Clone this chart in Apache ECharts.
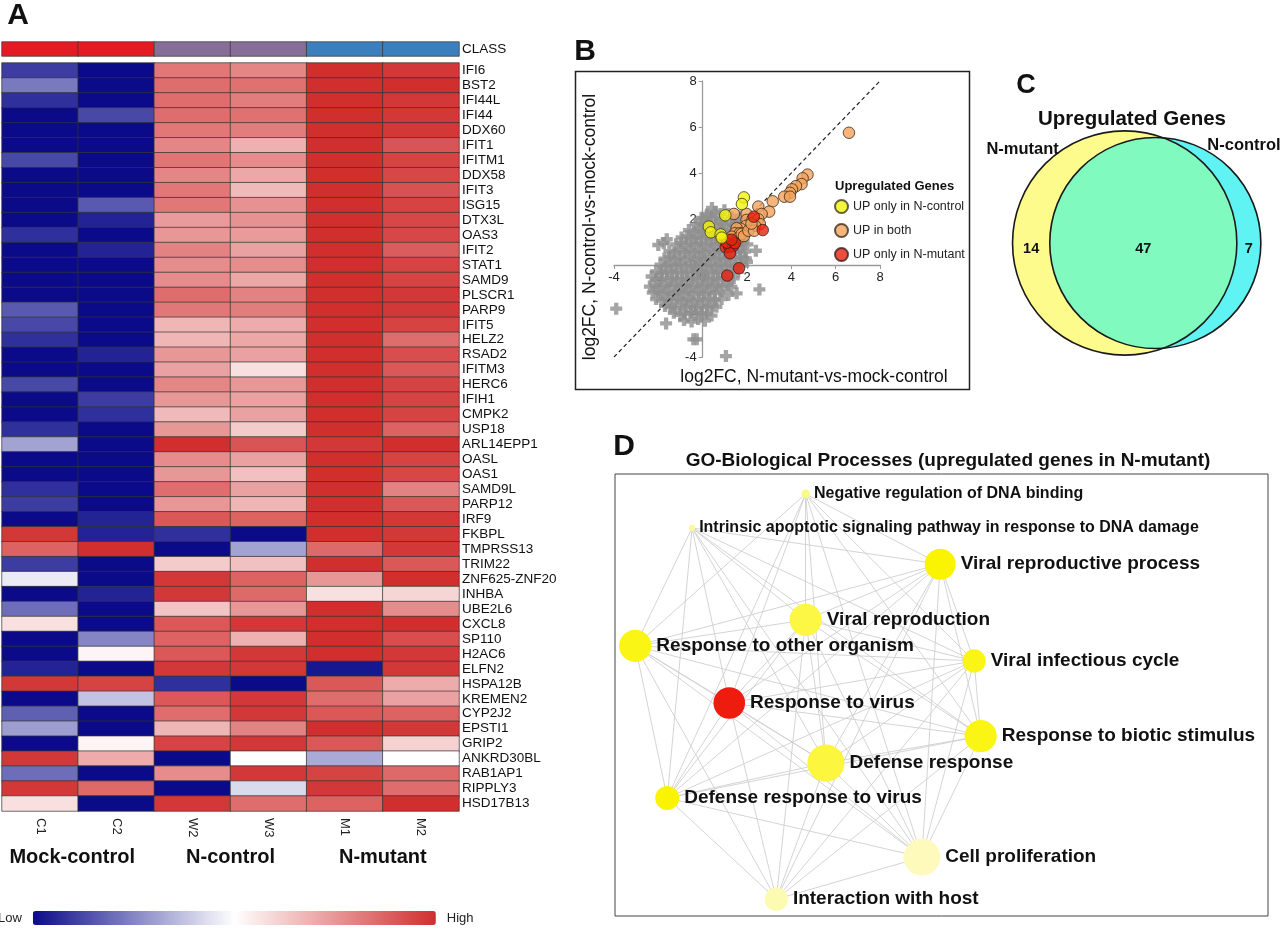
<!DOCTYPE html>
<html>
<head>
<meta charset="utf-8">
<title>Upregulated genes in N-mutant</title>
<script src="https://cdn.jsdelivr.net/npm/echarts@6/dist/echarts.min.js"></script>
<style>
  html, body { margin: 0; padding: 0; background: #fff; }
  #chart { width: 1280px; height: 930px; }
</style>
</head>
<body>
<div id="chart"></div>
<script>
const FONT = '"Liberation Sans", Arial, Helvetica, sans-serif';

// ---- A: heatmap ----
const samples = ['C1', 'C2', 'W2', 'W3', 'M1', 'M2'];
const sampleClass = [0, 0, 1, 1, 2, 2];
const classNames = ['Mock-control', 'N-control', 'N-mutant'];
const genes = ['IFI6', 'BST2', 'IFI44L', 'IFI44', 'DDX60', 'IFIT1', 'IFITM1', 'DDX58', 'IFIT3', 'ISG15',
  'DTX3L', 'OAS3', 'IFIT2', 'STAT1', 'SAMD9', 'PLSCR1', 'PARP9', 'IFIT5', 'HELZ2', 'RSAD2',
  'IFITM3', 'HERC6', 'IFIH1', 'CMPK2', 'USP18', 'ARL14EPP1', 'OASL', 'OAS1', 'SAMD9L', 'PARP12',
  'IRF9', 'FKBPL', 'TMPRSS13', 'TRIM22', 'ZNF625-ZNF20', 'INHBA', 'UBE2L6', 'CXCL8', 'SP110', 'H2AC6',
  'ELFN2', 'HSPA12B', 'KREMEN2', 'CYP2J2', 'EPSTI1', 'GRIP2', 'ANKRD30BL', 'RAB1AP1', 'RIPPLY3', 'HSD17B13'];
// relative expression (low -1 .. high 1), columns follow samples
const expr = [
  [-0.8, -1, 0.65, 0.58, 1, 0.95],
  [-0.55, -1, 0.7, 0.68, 1, 1],
  [-0.85, -1, 0.7, 0.62, 1, 0.95],
  [-1, -0.75, 0.7, 0.68, 1, 0.95],
  [-1, -1, 0.65, 0.62, 1, 0.95],
  [-1, -1, 0.58, 0.38, 1, 0.82],
  [-0.75, -1, 0.66, 0.55, 1, 0.9],
  [-1, -1, 0.58, 0.42, 1, 0.88],
  [-1, -1, 0.65, 0.33, 1, 0.83],
  [-1, -0.68, 0.65, 0.52, 1, 0.9],
  [-1, -0.9, 0.48, 0.52, 1, 0.88],
  [-0.85, -1, 0.5, 0.48, 1, 0.88],
  [-1, -0.9, 0.6, 0.45, 1, 0.78],
  [-1, -1, 0.55, 0.55, 1, 0.9],
  [-1, -1, 0.55, 0.42, 1, 0.9],
  [-1, -1, 0.7, 0.6, 1, 0.95],
  [-0.68, -1, 0.65, 0.62, 1, 0.95],
  [-0.75, -1, 0.35, 0.4, 1, 0.9],
  [-0.85, -1, 0.35, 0.42, 1, 0.7],
  [-1, -0.9, 0.5, 0.45, 1, 0.85],
  [-1, -1, 0.45, 0.15, 1, 0.8],
  [-0.75, -1, 0.58, 0.5, 1, 0.9],
  [-1, -0.8, 0.5, 0.45, 1, 0.9],
  [-1, -0.85, 0.33, 0.45, 1, 0.9],
  [-0.85, -1, 0.5, 0.25, 1, 0.75],
  [-0.38, -1, 1, 0.82, 0.95, 1],
  [-1, -1, 0.55, 0.45, 1, 0.9],
  [-1, -1, 0.5, 0.3, 1, 0.88],
  [-0.85, -1, 0.7, 0.45, 1, 0.6],
  [-0.8, -1, 0.5, 0.35, 1, 0.8],
  [-1, -0.9, 0.8, 0.75, 1, 0.95],
  [0.95, -0.9, -0.85, -1, 1, 0.95],
  [0.75, 1, -1, -0.38, 0.72, 0.95],
  [-0.8, -1, 0.25, 0.3, 1, 0.8],
  [-0.08, -1, 0.95, 0.75, 0.5, 1],
  [-1, -0.9, 0.95, 0.72, 0.15, 0.2],
  [-0.6, -1, 0.28, 0.5, 1, 0.55],
  [0.15, -1, 0.8, 0.95, 1, 1],
  [-1, -0.5, 0.75, 0.38, 1, 0.85],
  [-1, 0.05, 0.8, 0.95, 1, 0.95],
  [-0.9, -1, 0.95, 0.95, -0.95, 0.95],
  [0.95, 0.9, -0.85, -1, 0.8, 0.4],
  [-1, -0.25, 0.8, 0.95, 0.7, 0.45],
  [-0.65, -1, 0.7, 0.95, 0.8, 0.75],
  [-0.4, -1, 0.35, 0.6, 1, 0.95],
  [-1, 0.05, 0.9, 0.95, 0.8, 0.22],
  [0.95, 0.4, -1, 0, -0.35, 0],
  [-0.6, -1, 0.55, 0.95, 0.9, 0.72],
  [0.95, 0.72, -1, -0.15, 0.95, 0.7],
  [0.15, -1, 0.95, 0.7, 0.75, 1]
];

// ---- B: log2FC scatter ----
const upOnlyNControl = [[1.86, 2.94], [1.77, 2.65], [1.02, 2.16], [0.28, 1.67], [0.37, 1.42], [0.81, 1.33], [0.86, 1.19]];
const upBoth = [[6.6, 5.75], [4.73, 3.93], [4.51, 3.77], [4.46, 3.52], [4.21, 3.43], [4.03, 3.29], [3.94, 3.14],
  [3.68, 2.97], [3.94, 2.97], [3.16, 2.77], [2.51, 2.54], [3.0, 2.32], [1.98, 2.22], [2.66, 2.22], [1.41, 2.22],
  [1.98, 1.96], [2.25, 1.99], [2.51, 1.99], [2.58, 1.78], [2.36, 1.71], [1.95, 1.7], [1.71, 1.58], [1.53, 1.6],
  [1.46, 1.38], [1.68, 1.38], [1.31, 1.23], [1.61, 1.16], [1.38, 1.01], [1.23, 0.97], [1.13, 1.09], [1.76, 1.35],
  [1.86, 1.26], [2.06, 1.49], [2.32, 1.49], [2.2, 1.8]];
const upOnlyNMutant = [[2.31, 2.1], [2.71, 1.52], [1.04, 0.77], [1.2, 0.8], [1.38, 0.83], [1.23, 0.51], [1.1, 0.97],
  [1.64, -0.14], [1.11, -0.46], [1.45, 0.95], [1.3, 1.1]];
const otherGenes = [
  [0.42, 2.48], [0.55, 2.3], [0.98, 2.38], [0.2, 2.2],
  [-0.05, 2.05], [0.18, 2.12], [0.38, 2.02], [0.62, 2.15], [0.85, 2.0], [1.32, 2.08], [1.55, 1.98], [1.7, 2.12],
  [-0.32, 1.78], [-0.1, 1.85], [0.12, 1.76], [0.35, 1.84], [0.6, 1.75], [0.82, 1.82], [1.05, 1.74], [1.28, 1.86], [1.5, 1.78],
  [-0.62, 1.52], [-0.4, 1.46], [-0.18, 1.55], [0.05, 1.48], [0.28, 1.53], [0.5, 1.45], [0.74, 1.56], [0.96, 1.47], [1.2, 1.52], [1.45, 1.44], [1.7, 1.55],
  [-1.62, 1.12], [-0.95, 1.2], [-0.72, 1.25], [-0.5, 1.16], [-0.28, 1.22], [-0.05, 1.18], [0.18, 1.26], [0.4, 1.15], [0.62, 1.22], [0.86, 1.17], [1.1, 1.24], [1.32, 1.15], [1.58, 1.2], [1.85, 1.26],
  [-2.0, 0.87], [-1.75, 0.95], [-1.2, 0.9], [-0.98, 0.96], [-0.75, 0.86], [-0.52, 0.94], [-0.3, 0.88], [-0.08, 0.95], [0.15, 0.86], [0.38, 0.93], [0.6, 0.87], [0.84, 0.95], [1.05, 0.88], [1.3, 0.92], [1.55, 0.85], [1.8, 0.94], [2.02, 0.9],
  [-1.5, 0.6], [-1.28, 0.55], [-1.05, 0.64], [-0.82, 0.57], [-0.6, 0.63], [-0.38, 0.56], [-0.15, 0.62], [0.08, 0.58], [0.3, 0.65], [0.52, 0.55], [0.75, 0.62], [0.98, 0.57], [1.2, 0.64], [1.45, 0.56], [1.68, 0.62], [1.9, 0.58], [2.4, 0.62],
  [-1.72, 0.28], [-1.5, 0.34], [-1.26, 0.26], [-1.02, 0.32], [-0.8, 0.27], [-0.58, 0.35], [-0.35, 0.28], [-0.12, 0.33], [0.1, 0.26], [0.32, 0.34], [0.55, 0.27], [0.78, 0.32], [1.0, 0.25], [1.22, 0.33], [1.45, 0.28], [1.7, 0.34], [1.95, 0.29],
  [-1.9, 0.02], [-1.66, -0.04], [-1.42, 0.05], [-1.2, -0.02], [-0.98, 0.04], [-0.75, -0.05], [-0.52, 0.03], [-0.3, -0.03], [-0.08, 0.05], [0.15, -0.02], [0.38, 0.04], [0.6, -0.04], [0.82, 0.03], [1.05, -0.03], [1.28, 0.05], [1.5, -0.02], [1.75, 0.03], [2.0, 0.14],
  [-2.1, -0.28], [-1.86, -0.34], [-1.62, -0.26], [-1.4, -0.33], [-1.16, -0.27], [-0.92, -0.35], [-0.7, -0.28], [-0.46, -0.33], [-0.24, -0.26], [0.0, -0.32], [0.22, -0.27], [0.45, -0.34], [0.68, -0.28], [0.9, -0.33], [1.12, -0.27], [1.36, -0.32], [1.6, -0.29],
  [-2.3, -0.5], [-2.08, -0.62], [-1.85, -0.57], [-1.6, -0.64], [-1.38, -0.56], [-1.15, -0.63], [-0.92, -0.58], [-0.68, -0.65], [-0.45, -0.57], [-0.22, -0.62], [0.02, -0.56], [0.25, -0.64], [0.48, -0.58], [0.7, -0.63], [0.94, -0.57], [1.18, -0.62], [1.4, -0.58],
  [-2.38, -0.94], [-2.15, -0.88], [-1.92, -0.95], [-1.68, -0.87], [-1.45, -0.93], [-1.22, -0.86], [-0.98, -0.94], [-0.75, -0.88], [-0.52, -0.95], [-0.28, -0.87], [-0.05, -0.93], [0.18, -0.86], [0.42, -0.94], [0.65, -0.88], [0.9, -0.93], [1.12, -0.87], [1.3, -0.95], [2.56, -1.06],
  [-2.25, -1.2], [-2.0, -1.16], [-1.78, -1.24], [-1.55, -1.18], [-1.3, -1.25], [-1.08, -1.17], [-0.85, -1.23], [-0.62, -1.16], [-0.4, -1.24], [-0.16, -1.18], [0.08, -1.25], [0.3, -1.17], [0.55, -1.22], [0.8, -1.15], [1.16, -1.3], [1.53, -1.23],
  [-2.1, -1.48], [-1.86, -1.55], [-1.62, -1.47], [-1.38, -1.54], [-1.15, -1.46], [-0.92, -1.53], [-0.68, -1.47], [-0.45, -1.55], [-0.2, -1.48], [0.05, -1.54], [0.3, -1.46], [0.55, -1.52], [0.85, -1.48],
  [-1.7, -1.78], [-1.45, -1.84], [-1.25, -1.88], [-1.0, -1.76], [-0.76, -1.83], [-0.52, -1.77], [-0.28, -1.85], [-0.04, -1.78], [0.2, -1.84], [0.45, -1.76], [0.62, -1.82],
  [-1.3, -2.08], [-1.0, -2.17], [-0.8, -2.12], [-0.55, -2.06], [-0.3, -2.14], [-0.06, -2.08], [0.2, -2.12], [0.4, -2.2],
  [-1.65, -2.54], [-0.84, -2.39], [-0.5, -2.46], [-0.2, -2.35], [0.1, -2.42],
  [-0.42, -3.23], [-0.27, -3.23], [1.05, -3.96], [-3.9, -1.9]
];
const identityLine = [[-4, -4], [8, 8]];

// ---- C: Venn counts ----
const vennSets = ['N-mutant', 'N-control'];
const vennOnly = [14, 7];
const vennShared = 47;

// ---- D: GO network ----
const goTerms = ['Negative regulation of DNA binding', 'Intrinsic apoptotic signaling pathway in response to DNA damage',
  'Viral reproductive process', 'Viral reproduction', 'Response to other organism', 'Viral infectious cycle',
  'Response to virus', 'Response to biotic stimulus', 'Defense response', 'Defense response to virus',
  'Cell proliferation', 'Interaction with host'];
const goLayoutX = [29.2, 11.8, 49.8, 29.2, 3.1, 55.0, 17.5, 56.0, 32.3, 8.0, 47.0, 24.7];
const goLayoutY = [4.5, 12.2, 20.4, 33.0, 38.9, 42.3, 51.8, 59.3, 65.4, 73.3, 86.7, 96.2];
const goGeneCount = [2, 1, 25, 27, 27, 14, 26, 27, 36, 15, 35, 14];
const goScore = [2, 1.6, 6, 4.0, 5.4, 5.4, 12, 5.4, 4.2, 6, 0.6, 0.9];
const goEdges = [
  [0, 2], [0, 3], [0, 4], [0, 5], [0, 6], [0, 7], [0, 8], [0, 9], [0, 10],
  [1, 2], [1, 3], [1, 4], [1, 5], [1, 6], [1, 7], [1, 8], [1, 9], [1, 10],
  [2, 3], [2, 4], [2, 5], [2, 6], [2, 7], [2, 8], [2, 9], [2, 10], [2, 11],
  [3, 4], [3, 5], [3, 6], [3, 7], [3, 8], [3, 9], [3, 10], [3, 11],
  [4, 5], [4, 6], [4, 7], [4, 8], [4, 9], [4, 10], [4, 11],
  [5, 6], [5, 7], [5, 8], [5, 9], [5, 10], [5, 11],
  [6, 7], [6, 8], [6, 9], [6, 10], [6, 11],
  [7, 8], [7, 9], [7, 10], [7, 11],
  [8, 9], [8, 10], [8, 11],
  [9, 10], [9, 11],
  [10, 11]
];

// heatmap layout
const heatLeft = 2;
const heatWidth = 457;
const colWidth = heatWidth / samples.length;

const heatData = [];
expr.forEach((row, r) => {
  row.forEach((v, c) => heatData.push([c, r, v]));
});
const classData = sampleClass.map((k, c) => [c, 0, k]);

// node colour: pale yellow -> yellow -> red with enrichment score
const scoreStops = [[0, [253, 251, 208]], [6, [251, 244, 0]], [12, [238, 28, 14]]];
function scoreColor(s) {
  for (let i = 1; i < scoreStops.length; i += 1) {
    const [v0, c0] = scoreStops[i - 1];
    const [v1, c1] = scoreStops[i];
    if (s <= v1 || i === scoreStops.length - 1) {
      const t = Math.max(0, Math.min(1, (s - v0) / (v1 - v0)));
      const c = c0.map((ch, k) => Math.round(ch + (c1[k] - ch) * t));
      return `rgb(${c[0]},${c[1]},${c[2]})`;
    }
  }
  return '#fbf400';
}

// Venn geometry: circle area = gene count, overlap area = shared count
function lensArea(r1, r2, d) {
  if (d >= r1 + r2) return 0;
  if (d <= Math.abs(r1 - r2)) return Math.PI * Math.min(r1, r2) ** 2;
  const a1 = Math.acos((d * d + r1 * r1 - r2 * r2) / (2 * d * r1));
  const a2 = Math.acos((d * d + r2 * r2 - r1 * r1) / (2 * d * r2));
  const k = Math.sqrt((-d + r1 + r2) * (d + r1 - r2) * (d - r1 + r2) * (d + r1 + r2));
  return r1 * r1 * a1 + r2 * r2 * a2 - 0.5 * k;
}
const vennR1 = Math.sqrt((vennOnly[0] + vennShared) / Math.PI);
const vennR2 = Math.sqrt((vennOnly[1] + vennShared) / Math.PI);
let lo = Math.abs(vennR1 - vennR2);
let hi = vennR1 + vennR2;
for (let i = 0; i < 60; i += 1) {
  const mid = (lo + hi) / 2;
  if (lensArea(vennR1, vennR2, mid) > vennShared) lo = mid;
  else hi = mid;
}
const vennD = (lo + hi) / 2;

function renderVenn(params, api) {
  const c1 = api.coord([-vennD / 2, 0]);
  const c2 = api.coord([vennD / 2, 0]);
  const unit = api.size([1, 1])[0];
  const R1 = vennR1 * unit;
  const R2 = vennR2 * unit;
  const dpx = c2[0] - c1[0];
  const a = (R1 * R1 - R2 * R2 + dpx * dpx) / (2 * dpx);
  const h = Math.sqrt(Math.max(R1 * R1 - a * a, 0));
  const xi = c1[0] + a;
  const cy = c1[1];
  const t2 = Math.atan2(h, xi - c2[0]);
  const t1 = Math.atan2(h, xi - c1[0]);
  const pts = [];
  const n = 80;
  for (let i = 0; i <= n; i += 1) {
    const t = t2 + (2 * Math.PI - 2 * t2) * i / n;
    pts.push([c2[0] + R2 * Math.cos(t), cy + R2 * Math.sin(t)]);
  }
  for (let i = 0; i <= n; i += 1) {
    const t = -t1 + 2 * t1 * i / n;
    pts.push([c1[0] + R1 * Math.cos(t), cy + R1 * Math.sin(t)]);
  }
  const label = (text, x, y, size) => ({
    type: 'text',
    style: {
      text, x, y, fill: '#111', font: `bold ${size}px ${FONT}`,
      textAlign: 'center', align: 'center', textVerticalAlign: 'middle', verticalAlign: 'middle'
    }
  });
  const leftEdge = c1[0] - R1;
  const lensLeft = c2[0] - R2;
  const yRight = c1[0] + R1;
  const cRight = c2[0] + R2;
  return {
    type: 'group',
    children: [
      { type: 'circle', shape: { cx: c1[0], cy, r: R1 }, style: { fill: '#fdfb8c' } },
      { type: 'circle', shape: { cx: c2[0], cy, r: R2 }, style: { fill: '#60f3f3' } },
      { type: 'polygon', shape: { points: pts }, style: { fill: '#80fabf' } },
      { type: 'circle', shape: { cx: c1[0], cy, r: R1 }, style: { fill: 'none', stroke: '#1a1a1a', lineWidth: 1.6 } },
      { type: 'circle', shape: { cx: c2[0], cy, r: R2 }, style: { fill: 'none', stroke: '#1a1a1a', lineWidth: 1.6 } },
      label(String(vennOnly[0]), (leftEdge + lensLeft) / 2, cy + 6, 14.5),
      label(String(vennShared), (lensLeft + yRight) / 2, cy + 6, 14.5),
      label(String(vennOnly[1]), (yRight + cRight) / 2, cy + 6, 14.5),
      label(vennSets[0], c1[0] - R1 * 0.91, cy - R1 * 0.83, 16.5),
      label(vennSets[1], c2[0] + R2 * 0.84, cy - R2 * 0.92, 16.5)
    ]
  };
}

function txt(x, y, text, font, extra, align) {
  return Object.assign({
    type: 'text', x, y, silent: true,
    style: {
      text, font, fill: '#111',
      textAlign: align || 'center', align: align || 'center',
      textVerticalAlign: 'middle', verticalAlign: 'middle'
    }
  }, extra || {});
}

// scatter grid: zero lines cross inside the plot
const scatterGrid = { left: 614, top: 81, width: 266, height: 276 };
const scatterMin = -4;
const scatterMax = 8;
const zeroShiftX = scatterGrid.width * (0 - scatterMin) / (scatterMax - scatterMin);
const zeroShiftY = scatterGrid.height * (scatterMax - 0) / (scatterMax - scatterMin);

const PLUS = 'path://M3.2,0H6.8V3.2H10V6.8H6.8V10H3.2V6.8H0V3.2H3.2Z';
const hiddenValueAxis = (grid, min, max, inverse) => ({
  type: 'value', gridIndex: grid, min, max, inverse: !!inverse, show: false
});
const scatterAxis = (grid, position, offset) => ({
  type: 'value', gridIndex: grid, min: scatterMin, max: scatterMax, interval: 2, position, offset,
  axisLine: { onZero: false, lineStyle: { color: '#9a9a9a', width: 1.3 } },
  axisTick: { show: true, length: 4, lineStyle: { color: '#9a9a9a' } },
  axisLabel: { color: '#222', fontSize: 13, margin: 6 },
  splitLine: { show: false }
});

const chart = echarts.init(document.getElementById('chart'), null, { renderer: 'canvas' });

chart.setOption({
  backgroundColor: '#fff',
  animation: false,
  textStyle: { fontFamily: FONT },
  grid: [
    { left: heatLeft, top: 42, width: heatWidth, height: 14 },
    { left: heatLeft, top: 63, width: heatWidth, height: 748 },
    scatterGrid,
    { left: 1000, top: 103, width: 280, height: 280 },
    { left: 615, top: 474, width: 653, height: 442, show: true, borderColor: '#444', borderWidth: 1 }
  ],
  xAxis: [
    { type: 'category', gridIndex: 0, data: samples, show: false },
    {
      type: 'category', gridIndex: 1, data: samples,
      axisLine: { show: false }, axisTick: { show: false },
      axisLabel: { rotate: -90, margin: 7, fontSize: 13, color: '#222', interval: 0 }
    },
    scatterAxis(2, 'bottom', -(scatterGrid.height - zeroShiftY)),
    hiddenValueAxis(3, -5.5, 5.5),
    hiddenValueAxis(4, 0, 100)
  ],
  yAxis: [
    {
      type: 'category', gridIndex: 0, data: ['CLASS'], position: 'right',
      axisLine: { show: false }, axisTick: { show: false },
      axisLabel: { margin: 3, fontSize: 13.5, color: '#111' }
    },
    {
      type: 'category', gridIndex: 1, data: genes, inverse: true, position: 'right',
      axisLine: { show: false }, axisTick: { show: false },
      axisLabel: { margin: 3, fontSize: 13.5, color: '#111', interval: 0 }
    },
    scatterAxis(2, 'left', -zeroShiftX),
    hiddenValueAxis(3, -5.5, 5.5),
    hiddenValueAxis(4, 0, 100, true)
  ],
  visualMap: [
    {
      type: 'continuous', seriesIndex: 0, min: -1, max: 1,
      orient: 'horizontal', left: -2, bottom: 5, padding: 0, itemWidth: 14, itemHeight: 403,
      text: ['High', 'Low'], textGap: 11, calculable: false, hoverLink: false,
      textStyle: { fontSize: 13, color: '#222' },
      inRange: { color: ['#0b0b8a', '#ffffff', '#d12e2e'] }
    },
    {
      type: 'piecewise', seriesIndex: 1, show: false, dimension: 2,
      pieces: [
        { value: 0, color: '#e31c24' },
        { value: 1, color: '#876e99' },
        { value: 2, color: '#3c7fbf' }
      ]
    }
  ],
  legend: {
    data: ['UP only in N-control', 'UP in both', 'UP only in N-mutant'],
    orient: 'vertical', left: 834, top: 199, padding: 0,
    itemWidth: 13, itemHeight: 13, itemGap: 9, icon: 'circle', selectedMode: false,
    textStyle: { fontSize: 12.5, color: '#222' }
  },
  series: [
    {
      type: 'heatmap', xAxisIndex: 1, yAxisIndex: 1, data: heatData,
      itemStyle: { borderColor: '#333', borderWidth: 0.7 }, silent: true
    },
    {
      type: 'heatmap', xAxisIndex: 0, yAxisIndex: 0, data: classData,
      itemStyle: { borderColor: '#333', borderWidth: 0.7 }, silent: true
    },
    {
      type: 'scatter', name: 'other genes', xAxisIndex: 2, yAxisIndex: 2, data: otherGenes,
      symbol: PLUS, symbolSize: 12, itemStyle: { color: '#8f8f8f' }, silent: true, z: 2
    },
    {
      type: 'line', xAxisIndex: 2, yAxisIndex: 2, data: identityLine, symbol: 'none',
      lineStyle: { color: '#222', width: 1.2, type: [4, 3] }, silent: true, z: 3
    },
    {
      type: 'scatter', name: 'UP in both', xAxisIndex: 2, yAxisIndex: 2, data: upBoth, symbolSize: 11.5,
      itemStyle: { color: '#f3a35c', borderColor: '#3b2b1b', borderWidth: 1 }, silent: true, z: 4
    },
    {
      type: 'scatter', name: 'UP only in N-mutant', xAxisIndex: 2, yAxisIndex: 2, data: upOnlyNMutant, symbolSize: 11.5,
      itemStyle: { color: '#e8200c', borderColor: '#3b1b1b', borderWidth: 1 }, silent: true, z: 4
    },
    {
      type: 'scatter', name: 'UP only in N-control', xAxisIndex: 2, yAxisIndex: 2, data: upOnlyNControl, symbolSize: 11.5,
      itemStyle: { color: '#f4f20c', borderColor: '#3b3b1b', borderWidth: 1 }, silent: true, z: 5
    },
    {
      type: 'custom', xAxisIndex: 3, yAxisIndex: 3, data: [[0, 0]],
      renderItem: renderVenn, silent: true, clip: false
    },
    {
      type: 'graph', layout: 'none', coordinateSystem: 'cartesian2d', xAxisIndex: 4, yAxisIndex: 4,
      symbol: 'circle', silent: true, z: 3,
      data: goTerms.map((name, i) => ({
        name,
        value: [goLayoutX[i], goLayoutY[i]],
        symbolSize: Math.sqrt(goGeneCount[i]) * 6.2,
        itemStyle: { color: scoreColor(goScore[i]), opacity: 1 },
        label: goGeneCount[i] < 5 ? { fontSize: 16, distance: 4 } : undefined
      })),
      links: goEdges.map(([s, t]) => ({ source: s, target: t })),
      lineStyle: { color: '#cfcfcf', width: 0.9, opacity: 1, curveness: 0 },
      label: { show: true, position: 'right', distance: 5, formatter: '{b}', color: '#111', fontSize: 19, fontWeight: 'bold' },
      emphasis: { disabled: true }
    }
  ],
  graphic: [
    txt(18, 16, 'A', `bold 30px ${FONT}`),
    txt(585, 52, 'B', `bold 30px ${FONT}`),
    txt(1026, 86, 'C', `bold 27px ${FONT}`),
    txt(624, 447, 'D', `bold 30px ${FONT}`),
    ...classNames.map((name, k) => txt(heatLeft + colWidth * (2 * k + 1) - (k === 0 ? 6 : 0), 857, name, `bold 20px ${FONT}`)),
    {
      type: 'rect', silent: true,
      shape: { x: 575.5, y: 71.5, width: 394, height: 318 },
      style: { fill: 'none', stroke: '#222', lineWidth: 1.5 }
    },
    txt(814, 377, 'log2FC, N-mutant-vs-mock-control', `17.5px ${FONT}`),
    txt(590, 227, 'log2FC, N-control-vs-mock-control', `17.5px ${FONT}`, { rotation: Math.PI / 2 }),
    txt(835, 186, 'Upregulated Genes', `bold 13px ${FONT}`, null, 'left'),
    txt(1132, 119, 'Upregulated Genes', `bold 20.5px ${FONT}`),
    txt(948, 461, 'GO-Biological Processes (upregulated genes in N-mutant)', `bold 19px ${FONT}`)
  ]
});
</script>
</body>
</html>
